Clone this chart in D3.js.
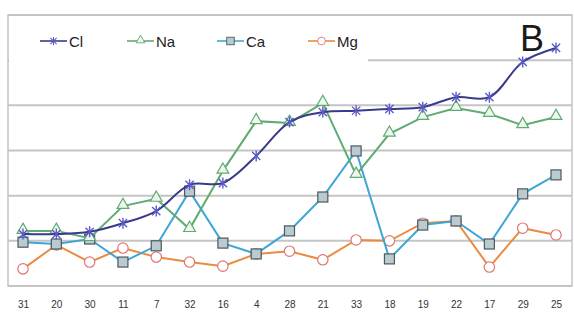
<!DOCTYPE html>
<html><head><meta charset="utf-8">
<script src="https://cdn.jsdelivr.net/npm/d3@7"></script>
<style>body{margin:0;background:#fff}svg{display:block}</style>
</head><body>
<svg id="c" width="574" height="314"></svg>
<script>
const categories = ["31","20","30","11","7","32","16","4","28","21","33","18","19","22","17","29","25"];
const cl = [11.5,11.5,12.0,13.9,16.6,22.4,22.8,28.8,36.3,38.5,38.8,39.2,39.6,41.8,41.8,49.6,52.7];
const na = [12.2,12.2,10.6,17.7,19.3,12.6,25.5,36.5,36.1,40.5,24.6,33.7,37.4,39.4,38.1,35.6,37.4];
const ca = [9.7,9.3,10.4,5.3,8.9,21.0,9.5,7.1,12.2,19.7,29.9,6.0,13.5,14.4,9.3,20.4,24.6];
const mg = [3.8,9.1,5.3,8.4,6.4,5.3,4.4,7.1,7.7,5.8,10.2,10.0,13.9,14.4,4.2,12.8,11.3];
const yTicks = [0,10,20,30,40,50,60];
const seriesNames = ["Cl","Na","Ca","Mg"];

const svg = d3.select("#c");
const L=8,R=572,T=15,B=286;
const x = d3.scalePoint().domain(categories).range([23,556]);
const y = d3.scaleLinear().domain([0,60]).range([B,T]);

// gridlines
svg.append("g").selectAll("line").data(yTicks).join("line")
  .attr("x1",L).attr("x2",R).attr("y1",d=>y(d)).attr("y2",d=>y(d))
  .attr("stroke","#c4c4c4").attr("stroke-width",2);
// border
svg.append("rect").attr("x",L).attr("y",T).attr("width",R-L).attr("height",B-T)
  .attr("fill","none").attr("stroke","#c4c4c4").attr("stroke-width",1.5);
// small tick
svg.append("line").attr("x1",L).attr("x2",L+6).attr("y1",y(50)+1).attr("y2",y(50)+1)
  .attr("stroke","#b0b0b0").attr("stroke-width",1);

// x labels
const xAxis = d3.axisBottom(x).tickSize(0).tickPadding(0);
const gx = svg.append("g").attr("transform",`translate(0,${B})`).call(xAxis);
gx.select(".domain").remove();
gx.selectAll("text").attr("dy",0).attr("y",22).attr("font-family","Liberation Sans, Arial, sans-serif")
  .attr("font-size",10).attr("fill","#333");

const starPath = s => { const h=s/2, d=h*0.75; return `M${-d},${-d}L${d},${d}M${-d},${d}L${d},${-d}M0,${-h}L0,${h}`; };
const cfg = {
  Cl:{data:cl, line:"#3a3a8c", w:2, curve:d3.curveCatmullRom.alpha(0.5)},
  Na:{data:na, line:"#5fab72", w:2, curve:d3.curveLinear},
  Ca:{data:ca, line:"#3ea6d6", w:2, curve:d3.curveLinear},
  Mg:{data:mg, line:"#ec8a3e", w:2, curve:d3.curveLinear}
};
function marker(g, name){
  if(name==="Cl") return g.append("path").attr("d",starPath(11)).attr("stroke","#5a5ac8").attr("stroke-width",1.4).attr("fill","none");
  if(name==="Na") return g.append("path").attr("d",d3.symbol(d3.symbolTriangle,60)()).attr("transform","translate(0,-1)").attr("fill","#eef6ee").attr("stroke","#5fab72").attr("stroke-width",1.2);
  if(name==="Ca") return g.append("rect").attr("x",-5).attr("y",-5).attr("width",10).attr("height",10).attr("fill","#b9cbcf").attr("stroke","#4a5a60").attr("stroke-width",1.2);
  if(name==="Mg") return g.append("circle").attr("r",5.2).attr("fill","#fff").attr("stroke","#e07474").attr("stroke-width",1.2);
}
const drawOrder = ["Mg","Ca","Na","Cl"];
drawOrder.forEach(name=>{
  const c = cfg[name];
  const line = d3.line().x((d,i)=>x(categories[i])).y(d=>y(d)).curve(c.curve);
  svg.append("path").datum(c.data).attr("d",line).attr("fill","none").attr("stroke",c.line).attr("stroke-width",c.w);
  c.data.forEach((v,i)=>{
    const g = svg.append("g").attr("transform",`translate(${x(categories[i])},${y(v)})`);
    marker(g,name);
  });
});

// legend box
svg.append("rect").attr("x",L+1).attr("y",T+1).attr("width",359).attr("height",47).attr("fill","#fff");
const legX = [40,127,217,308];
seriesNames.forEach((name,i)=>{
  const g = svg.append("g").attr("transform",`translate(${legX[i]},41)`);
  g.append("line").attr("x1",0).attr("x2",27).attr("stroke",cfg[name].line).attr("stroke-width",1.6);
  const m = g.append("g").attr("transform","translate(13.5,0) scale(0.75)");
  marker(m,name);
  g.append("text").attr("x",29).attr("y",5.5).text(name).attr("font-family","Liberation Sans, Arial, sans-serif")
    .attr("font-size",15).attr("fill","#222");
});

svg.append("text").attr("x",520).attr("y",51).text("B").attr("font-family","Liberation Sans, Arial, sans-serif")
  .attr("font-size",36).attr("fill","#1a1a1a");
</script>
</body></html>
